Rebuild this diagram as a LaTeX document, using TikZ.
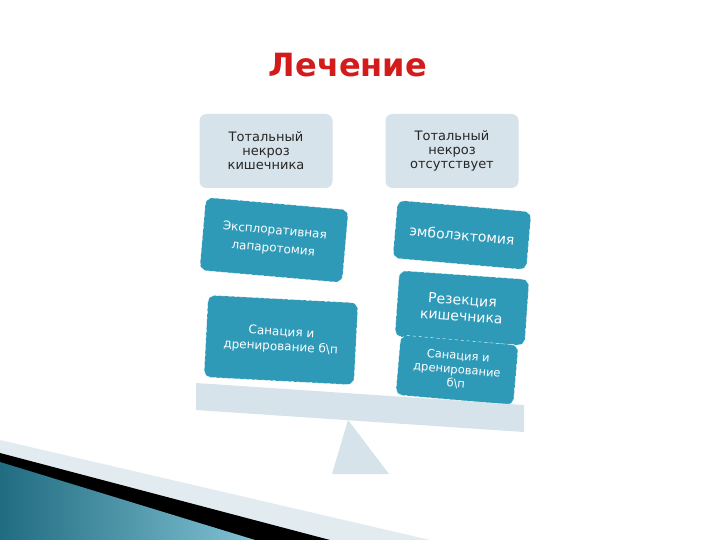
\documentclass[tikz,border=0pt]{standalone}
\usepackage{fontspec}
\setmainfont{DejaVu Sans}
\begin{document}
\begin{tikzpicture}[x=1pt,y=-1pt,
  gbox/.style={fill=gb,rounded corners=7pt,minimum width=133pt,minimum height=74pt,align=center,font=\fontsize{13}{14}\selectfont,text=black!85},
  bbox/.style={fill=tb,draw=white,dashed,rounded corners=7pt,align=center,text=white,font=\fontsize{12}{15}\selectfont}]
\definecolor{gb}{HTML}{D6E3EA}
\definecolor{tb}{HTML}{2E9AB8}
\definecolor{tr}{HTML}{D41B1B}
\useasboundingbox (0,0) rectangle (720,540);
\fill[white] (0,0) rectangle (720,540);
% bottom-left swoosh
\fill[gb!70] (0,440) -- (430,540) -- (0,540) -- cycle;
\fill[black] (0,453) -- (330,540) -- (0,540) -- cycle;
\shade[left color=tb!70!black, right color=tb!60!white] (0,462) -- (255,540) -- (0,540) -- cycle;
\node[font=\fontsize{32}{32}\selectfont\bfseries,text=tr] (title) at (348,65) {Лечение};
\node[gbox] (tl) at (266,151) {Тотальный\\некроз\\кишечника};
\node[gbox] (tr) at (452,151) {Тотальный\\некроз\\отсутствует};
\node[bbox,minimum width=143pt,minimum height=73pt,rotate=-5] (e) at (274,240) {Эксплоративная\\[3pt]лапаротомия};
\node[bbox,minimum width=134pt,minimum height=58pt,rotate=-5,font=\fontsize{14}{14}\selectfont] (emb) at (462,235) {эмболэктомия};
\node[bbox,minimum width=130pt,minimum height=66pt,rotate=-4,font=\fontsize{14}{16}\selectfont] (res) at (462,308) {Резекция\\кишечника};
\node[bbox,minimum width=150pt,minimum height=82pt,rotate=-3] (sl) at (281,340) {Санация и\\дренирование б\textbackslash п};
\node[bbox,minimum width=118pt,minimum height=60pt,rotate=-5,font=\fontsize{11.5}{14}\selectfont,inner sep=2pt] (sr) at (457,370) {Санация и\\дренирование\\б\textbackslash п};
\fill[gb] (196,383) -- (524,405) -- (524,432) -- (196,410) -- cycle;
\fill[gb] (348,420) -- (389,474) -- (332,474) -- cycle;
\end{tikzpicture}
\end{document}
